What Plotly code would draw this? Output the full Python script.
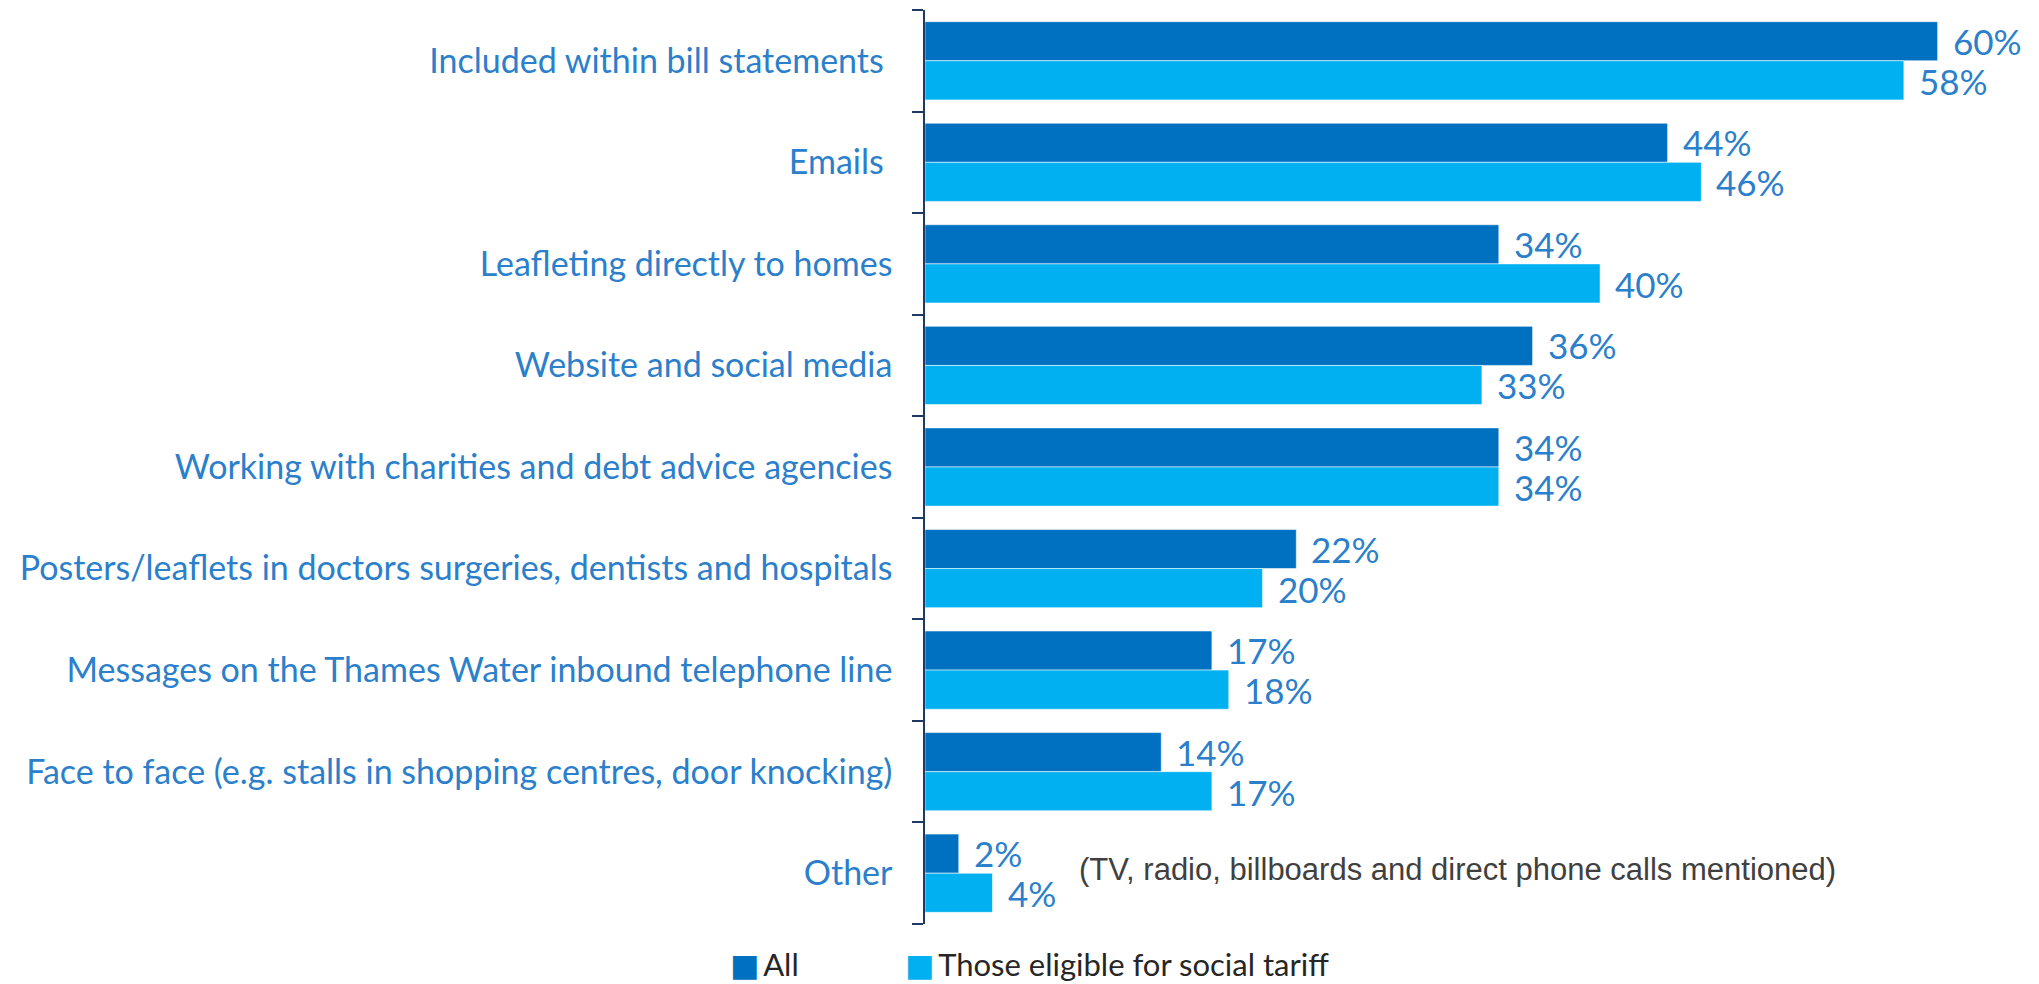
import plotly.graph_objects as go

# Survey: preferred ways to promote the social tariff (% of respondents)
categories = [
    "Included within bill statements",
    "Emails",
    "Leafleting directly to homes",
    "Website and social media",
    "Working with charities and debt advice agencies",
    "Posters/leaflets in doctors surgeries, dentists and hospitals",
    "Messages on the Thames Water inbound telephone line",
    "Face to face (e.g. stalls in shopping centres, door knocking)",
    "Other",
]
tick_labels = [
    "Included within bill statements\u00a0",
    "Emails\u00a0",
    "Leafleting directly to homes",
    "Website and social media",
    "Working with charities and debt advice agencies",
    "Posters/leaflets in doctors surgeries, dentists and hospitals",
    "Messages on the Thames Water inbound telephone line",
    "Face to face (e.g. stalls in shopping centres, door knocking)",
    "Other",
]
all_values = [60, 44, 34, 36, 34, 22, 17, 14, 2]
eligible_values = [58, 46, 40, 33, 34, 20, 18, 17, 4]
series_names = ["All", "Those eligible for social tariff"]
other_note = "(TV, radio, billboards and direct phone calls mentioned)"

DARK = "#0070C0"
LIGHT = "#00B0F0"
LABEL = "#2B7FCB"
AXIS = "#1F3864"

fig = go.Figure()
for name, vals, col in [(series_names[0], all_values, DARK),
                        (series_names[1], eligible_values, LIGHT)]:
    fig.add_trace(go.Bar(
        y=categories, x=vals, name=name, orientation="h",
        marker=dict(color=col, line=dict(color="rgba(255,255,255,0.55)", width=1)),
        hoverinfo="skip", showlegend=False,
    ))

# value labels beside each bar
annotations = []
for vals, shift in [(all_values, 20), (eligible_values, -20)]:
    for cat, v in zip(categories, vals):
        annotations.append(dict(
            x=v, y=cat, xref="x", yref="y", text=f"{v}%",
            showarrow=False, xanchor="left", yanchor="middle",
            xshift=13, yshift=shift,
            font=dict(family="Lato", size=35, color=LABEL),
        ))
annotations.append(dict(
    x=9, y="Other", xref="x", yref="y", text=other_note,
    showarrow=False, xanchor="left", yanchor="middle", yshift=4,
    font=dict(family="Liberation Sans", size=31, color="#404040"),
))

# legend row under the plot
legend_x = [-0.180, -0.0205]
for name, col, lx in zip(series_names, [DARK, LIGHT], legend_x):
    annotations.append(dict(
        x=lx, y=-0.044, xref="paper", yref="paper", xanchor="left",
        yanchor="middle", showarrow=False,
        text=f'<span style="color:{col};font-family:DejaVu Sans">\u25A0</span>\u2009{name}',
        font=dict(family="Lato", size=31, color="#262626"),
    ))

fig.update_layout(
    width=2039, height=984,
    margin=dict(l=925, r=17, t=10, b=60),
    paper_bgcolor="white", plot_bgcolor="white",
    barmode="group", bargap=0.23, bargroupgap=0,
    annotations=annotations,
    showlegend=False,
    xaxis=dict(range=[0, 65], showticklabels=False, showgrid=False,
               zeroline=False, showline=False, fixedrange=True),
    yaxis=dict(
        autorange="reversed", tickmode="array", tickvals=categories,
        ticktext=tick_labels, tickson="boundaries", ticks="outside",
        ticklen=11, tickwidth=1.5, tickcolor=AXIS, showline=True,
        linecolor=AXIS, linewidth=1.5, showgrid=False,
        tickfont=dict(family="Lato", size=34, color=LABEL),
        ticklabelstandoff=24,
    ),
)

fig.write_html("out.html")
